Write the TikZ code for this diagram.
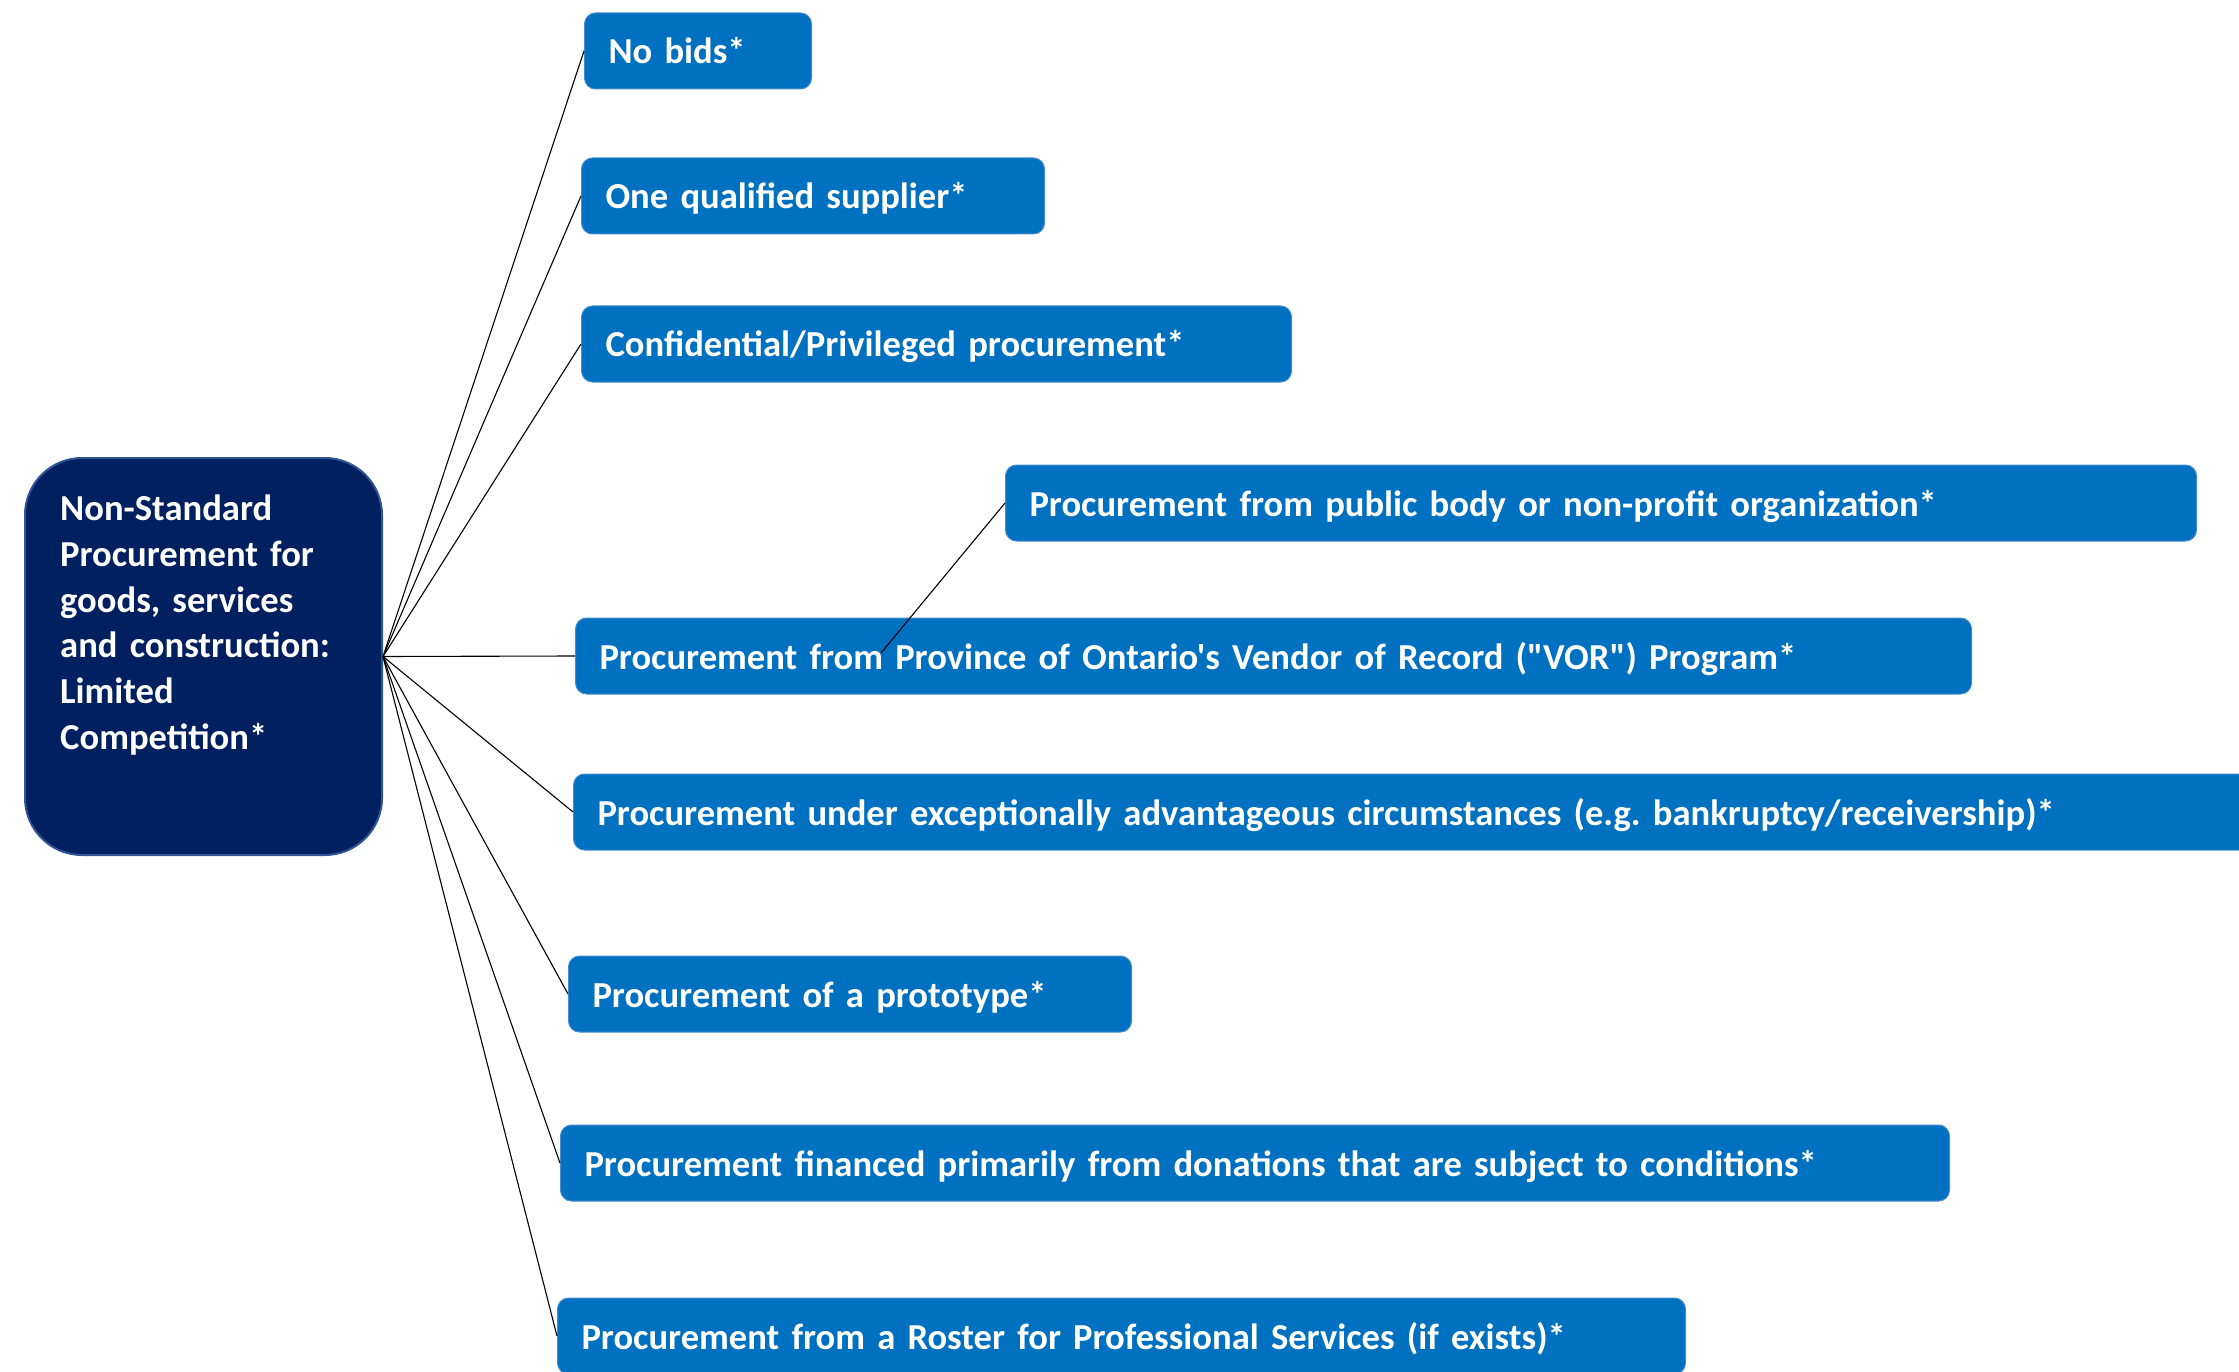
\documentclass[tikz,border=0pt]{standalone}
\usepackage{fontspec}
\setmainfont{Carlito}[Ligatures=TeXOff]
\definecolor{boxblue}{RGB}{0,112,192}
\definecolor{boxedge}{RGB}{70,140,205}
\definecolor{rootfill}{RGB}{0,32,96}
\definecolor{rootedge}{RGB}{47,85,151}
\tikzset{
  item/.style={fill=boxblue, draw=boxedge, line width=1pt, rounded corners=11pt,
    minimum height=76pt, inner xsep=24pt, inner ysep=0pt, text=white,
    text height=29pt, text depth=3pt,
    font=\fontsize{36.6}{42}\selectfont\bfseries, align=left, anchor=west},
  conn/.style={draw=black, line width=1.1pt},
}
\begin{document}
\begin{tikzpicture}[x=1pt,y=-1pt]
\useasboundingbox (0,0) rectangle (2239,1372);
% root
\node[fill=rootfill, draw=rootedge, line width=2pt, rounded corners=57pt,
  minimum width=357pt, minimum height=397pt, anchor=north west, inner sep=0pt] (root) at (24,457) {};
\node[anchor=north west, inner sep=0pt, text=white, align=left, text width=320pt,
  font=\fontsize{36.6}{45.7}\selectfont\bfseries] (rootlabel) at (60,495)
  {Non-Standard\\Procurement for\\goods, services\\and construction:\\Limited\\Competition*};
% items
\node[item, text width=179pt]  (b1) at (584,51)   {No bids*};
\node[item, text width=415pt]  (b2) at (581,196)  {One qualified supplier*};
\node[item, text width=662pt]  (b3) at (581,344)  {Confidential/Privileged procurement*};
\node[item, text width=1143pt] (b4) at (1005,503) {Procurement from public body or non-profit organization*};
\node[item, text width=1348pt] (b5) at (575,656)  {Procurement from Province of Ontario's Vendor of Record ("VOR") Program*};
\node[item, text width=1640pt] (b6) at (573,812)  {Procurement under exceptionally advantageous circumstances (e.g.\ bankruptcy/receivership)*};
\node[item, text width=515pt]  (b7) at (568,994)  {Procurement of a prototype*};
\node[item, text width=1341pt] (b8) at (560,1163) {Procurement financed primarily from donations that are subject to conditions*};
\node[item, text width=1080pt] (b9) at (557,1336) {Procurement from a Roster for Professional Services (if exists)*};
% connectors
\coordinate (hub) at (root.east);
\coordinate (vorpt) at (881,653);
\foreach \b in {b1,b2,b3,b5,b6,b7,b8,b9} {
  \draw[conn] (hub) -- (\b.west);
}
\draw[conn] (vorpt) -- (b4.west);
\end{tikzpicture}
\end{document}
